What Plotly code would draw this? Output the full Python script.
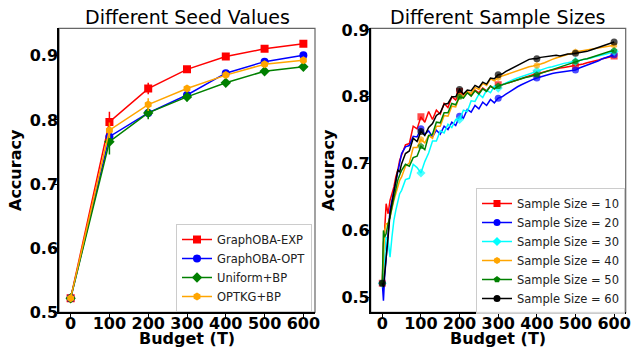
import plotly.graph_objects as go

# ---------------- Left panel: Different Seed Values ----------------
seed_budget = [0, 100, 200, 300, 400, 500, 600]
exp_mean = [0.522, 0.797, 0.849, 0.879, 0.899, 0.911, 0.919]
exp_err = [0.002, 0.016, 0.009, 0.004, 0.003, 0.004, 0.003]
opt_mean = [0.522, 0.774, 0.811, 0.839, 0.873, 0.891, 0.901]
opt_err = [0.002, 0.012, 0.006, 0.005, 0.004, 0.003, 0.003]
uni_mean = [0.522, 0.766, 0.811, 0.836, 0.858, 0.876, 0.883]
uni_err = [0.002, 0.020, 0.010, 0.007, 0.004, 0.004, 0.003]
kg_mean = [0.522, 0.784, 0.824, 0.849, 0.870, 0.887, 0.893]
kg_err = [0.002, 0.012, 0.010, 0.005, 0.004, 0.003, 0.003]

# ---------------- Right panel: Different Sample Sizes ----------------
budget = [0, 3, 6, 10, 15, 20, 25, 30, 35, 40, 45, 50] + list(range(60, 601, 10))

ss10 = [0.521, 0.580, 0.600, 0.640, 0.625, 0.645, 0.655, 0.665, 0.680, 0.690, 0.705, 0.712,
        0.728, 0.730, 0.756, 0.752, 0.770, 0.762, 0.778, 0.766, 0.780, 0.774, 0.790, 0.784,
        0.800, 0.795, 0.808, 0.803, 0.807, 0.802, 0.810, 0.806, 0.813, 0.809, 0.816, 0.812,
        0.818, 0.818, 0.820, 0.822, 0.824, 0.826, 0.827, 0.829, 0.831, 0.833, 0.834, 0.836,
        0.838, 0.839, 0.840, 0.842, 0.843, 0.844, 0.845, 0.846, 0.846, 0.848, 0.849, 0.851,
        0.852, 0.853, 0.855, 0.857, 0.858, 0.860, 0.861]
ss20 = [0.521, 0.495, 0.530, 0.560, 0.600, 0.630, 0.645, 0.660, 0.672, 0.685, 0.700, 0.715,
        0.725, 0.727, 0.741, 0.740, 0.752, 0.744, 0.749, 0.740, 0.750, 0.744, 0.756, 0.751,
        0.762, 0.757, 0.771, 0.768, 0.781, 0.777, 0.787, 0.782, 0.792, 0.787, 0.796, 0.791,
        0.798, 0.800, 0.804, 0.808, 0.812, 0.815, 0.818, 0.821, 0.824, 0.826, 0.828, 0.830,
        0.832, 0.834, 0.835, 0.836, 0.837, 0.838, 0.839, 0.840, 0.840, 0.843, 0.845, 0.847,
        0.849, 0.852, 0.854, 0.857, 0.859, 0.861, 0.863]
ss30 = [0.521, 0.530, 0.560, 0.590, 0.585, 0.560, 0.590, 0.615, 0.630, 0.645, 0.655, 0.660,
        0.676, 0.678, 0.699, 0.694, 0.686, 0.703, 0.716, 0.734, 0.734, 0.749, 0.746, 0.759,
        0.754, 0.766, 0.766, 0.780, 0.778, 0.794, 0.793, 0.804, 0.799, 0.810, 0.806, 0.816,
        0.813, 0.818, 0.821, 0.824, 0.826, 0.828, 0.830, 0.832, 0.835, 0.837, 0.839, 0.841,
        0.843, 0.844, 0.845, 0.847, 0.848, 0.850, 0.851, 0.852, 0.853, 0.855, 0.856, 0.857,
        0.858, 0.860, 0.861, 0.863, 0.864, 0.866, 0.868]
ss40 = [0.521, 0.560, 0.600, 0.610, 0.610, 0.620, 0.635, 0.645, 0.655, 0.665, 0.675, 0.680,
        0.696, 0.701, 0.724, 0.724, 0.736, 0.731, 0.742, 0.738, 0.756, 0.756, 0.772, 0.771,
        0.786, 0.785, 0.801, 0.800, 0.808, 0.805, 0.814, 0.811, 0.820, 0.817, 0.827, 0.824,
        0.829, 0.831, 0.833, 0.835, 0.837, 0.840, 0.842, 0.844, 0.845, 0.846, 0.847, 0.849,
        0.851, 0.854, 0.856, 0.858, 0.860, 0.862, 0.864, 0.866, 0.867, 0.868, 0.869, 0.870,
        0.871, 0.872, 0.873, 0.874, 0.875, 0.876, 0.877]
ss50 = [0.521, 0.600, 0.590, 0.595, 0.610, 0.620, 0.635, 0.650, 0.665, 0.675, 0.683, 0.690,
        0.699, 0.696, 0.709, 0.711, 0.726, 0.721, 0.742, 0.744, 0.762, 0.761, 0.776, 0.776,
        0.790, 0.788, 0.800, 0.798, 0.806, 0.801, 0.809, 0.804, 0.812, 0.808, 0.816, 0.812,
        0.816, 0.818, 0.820, 0.822, 0.824, 0.826, 0.827, 0.829, 0.830, 0.831, 0.833, 0.835,
        0.837, 0.839, 0.841, 0.843, 0.845, 0.847, 0.849, 0.851, 0.853, 0.854, 0.856, 0.857,
        0.859, 0.860, 0.862, 0.864, 0.866, 0.868, 0.869]
ss60 = [0.521, 0.515, 0.535, 0.555, 0.590, 0.625, 0.640, 0.660, 0.675, 0.690, 0.688, 0.700,
        0.715, 0.719, 0.738, 0.733, 0.748, 0.742, 0.754, 0.760, 0.772, 0.776, 0.789, 0.790,
        0.800, 0.800, 0.811, 0.804, 0.810, 0.809, 0.817, 0.814, 0.822, 0.819, 0.828, 0.827,
        0.833, 0.834, 0.838, 0.841, 0.845, 0.848, 0.851, 0.854, 0.856, 0.857, 0.857, 0.859,
        0.860, 0.861, 0.862, 0.862, 0.861, 0.863, 0.864, 0.864, 0.865, 0.865, 0.867, 0.868,
        0.870, 0.872, 0.874, 0.876, 0.878, 0.880, 0.882]

FONT = "DejaVu Sans"
fig = go.Figure()

left_series = [
    ("GraphOBA-EXP", exp_mean, exp_err, "#ff0000", "square"),
    ("GraphOBA-OPT", opt_mean, opt_err, "#0000ff", "circle"),
    ("Uniform+BP", uni_mean, uni_err, "#008000", "diamond"),
    ("OPTKG+BP", kg_mean, kg_err, "#ffa500", "hexagon"),
]
for name, m, e, c, sym in left_series:
    fig.add_trace(go.Scatter(
        x=seed_budget, y=m, name=name, mode="lines+markers",
        line=dict(color=c, width=1.5),
        marker=dict(color=c, symbol=sym, size=8, line=dict(width=0)),
        error_y=dict(type="data", array=e, visible=True, color=c, thickness=1.5, width=0),
        xaxis="x", yaxis="y", legend="legend",
    ))

right_series = [
    ("Sample Size = 10", ss10, "#ff0000", "square"),
    ("Sample Size = 20", ss20, "#0000ff", "circle"),
    ("Sample Size = 30", ss30, "#00ffff", "diamond"),
    ("Sample Size = 40", ss40, "#ffa500", "hexagon"),
    ("Sample Size = 50", ss50, "#008000", "pentagon"),
    ("Sample Size = 60", ss60, "#000000", "circle"),
]
for name, vals, c, sym in right_series:
    sizes = [7 if b % 100 == 0 else 0 for b in budget]
    fig.add_trace(go.Scatter(
        x=budget, y=vals, name=name, mode="lines+markers", showlegend=False,
        line=dict(color=c, width=1.5),
        marker=dict(color=c, symbol=sym, size=sizes, line=dict(width=0)),
        xaxis="x2", yaxis="y2", legendgroup=name,
    ))
for name, vals, c, sym in right_series:
    fig.add_trace(go.Scatter(
        x=[None], y=[None], name=name, mode="lines+markers",
        line=dict(color=c, width=1.5),
        marker=dict(color=c, symbol=sym, size=7, line=dict(width=0)),
        xaxis="x2", yaxis="y2", legend="legend2", legendgroup=name,
    ))

tickfont = dict(family=FONT, size=16, color="black", weight="bold")
axis_common = dict(showgrid=False, zeroline=False, showline=True, linecolor="black",
                   linewidth=1.5, ticks="outside", ticklen=4, tickwidth=1.2,
                   tickcolor="black", tickfont=tickfont, automargin=False)
x_common = dict(axis_common, ticklabelstandoff=-8)
y_common = dict(axis_common, ticklabelstandoff=-8)

yb0, yb1 = 35.7 / 348, 319.7 / 348
leg_font = dict(family=FONT, size=11.5, color="#222222")
fig.update_layout(
    width=633, height=348,
    margin=dict(l=0, r=0, t=0, b=0, autoexpand=False),
    paper_bgcolor="white", plot_bgcolor="white",
    font=dict(family=FONT, color="black"),
    xaxis=dict(domain=[59 / 633, 315 / 633], range=[-30, 630], tickvals=seed_budget,
               anchor="y", **x_common),
    yaxis=dict(domain=[yb0, yb1], range=[0.5, 0.943], tickvals=[0.5, 0.6, 0.7, 0.8, 0.9],
               ticktext=["0.5", "0.6", "0.7", "0.8", "0.9"], anchor="x", **y_common),
    xaxis2=dict(domain=[370.7 / 633, 625.7 / 633], range=[-30, 630],
                tickvals=[0, 100, 200, 300, 400, 500, 600], anchor="y2", **x_common),
    yaxis2=dict(domain=[yb0, yb1], range=[0.4775, 0.9025], tickvals=[0.5, 0.6, 0.7, 0.8, 0.9],
                ticktext=["0.5", "0.6", "0.7", "0.8", "0.9"], anchor="x2", **y_common),
    legend=dict(x=312 / 633, y=1 - 312 / 348, xanchor="right", yanchor="bottom",
                bgcolor="rgba(255,255,255,0.85)", bordercolor="#cccccc", borderwidth=1,
                font=leg_font, tracegroupgap=0),
    legend2=dict(x=625 / 633, y=1 - 314 / 348, xanchor="right", yanchor="bottom",
                 bgcolor="rgba(255,255,255,0.85)", bordercolor="#cccccc", borderwidth=1,
                 font=leg_font, tracegroupgap=0),
    shapes=[
        dict(type="rect", xref="x domain", yref="y domain", x0=0, x1=1, y0=0, y1=1,
             line=dict(color="#666666", width=1.2), layer="below"),
        dict(type="rect", xref="x2 domain", yref="y2 domain", x0=0, x1=1, y0=0, y1=1,
             line=dict(color="#666666", width=1.2), layer="below"),
    ],
    annotations=[
        dict(text="Different Seed Values", x=(59 + 315) / 2 / 633, y=1 - 17 / 348,
             xref="paper", yref="paper", showarrow=False, xanchor="center", yanchor="middle",
             font=dict(family=FONT, size=19, color="black")),
        dict(text="Different Sample Sizes", x=(370.7 + 625.7) / 2 / 633, y=1 - 17 / 348,
             xref="paper", yref="paper", showarrow=False, xanchor="center", yanchor="middle",
             font=dict(family=FONT, size=19, color="black")),
        dict(text="Budget (T)", x=(59 + 315) / 2 / 633, y=1 - 338 / 348,
             xref="paper", yref="paper", showarrow=False, xanchor="center", yanchor="middle",
             font=dict(family=FONT, size=16, color="black", weight="bold")),
        dict(text="Budget (T)", x=(370.7 + 625.7) / 2 / 633, y=1 - 338 / 348,
             xref="paper", yref="paper", showarrow=False, xanchor="center", yanchor="middle",
             font=dict(family=FONT, size=16, color="black", weight="bold")),
        dict(text="Accuracy", x=15 / 633, y=1 - 170 / 348, textangle=-90,
             xref="paper", yref="paper", showarrow=False, xanchor="center", yanchor="middle",
             font=dict(family=FONT, size=16, color="black", weight="bold")),
        dict(text="Accuracy", x=328 / 633, y=1 - 170 / 348, textangle=-90,
             xref="paper", yref="paper", showarrow=False, xanchor="center", yanchor="middle",
             font=dict(family=FONT, size=16, color="black", weight="bold")),
    ],
)

fig.write_html("out.html")
